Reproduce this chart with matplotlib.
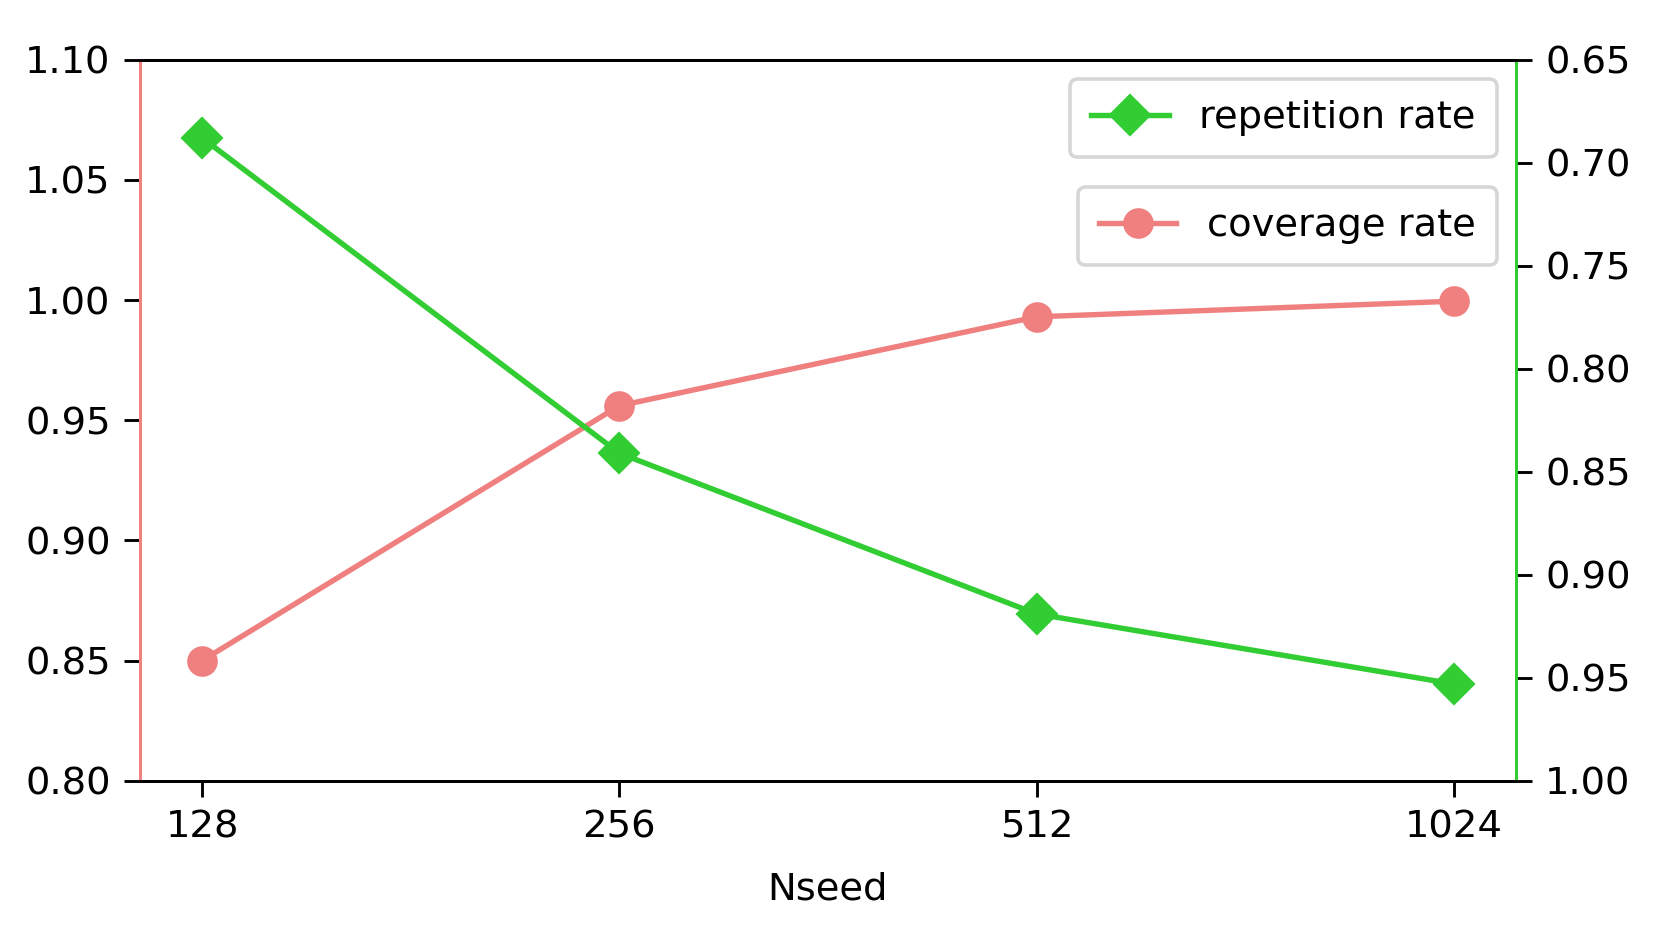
import matplotlib
matplotlib.use("Agg")
import matplotlib.pyplot as plt

# dati
nseed = ["128", "256", "512", "1024"]
coverage_rate = [0.850, 0.956, 0.993, 0.9995]
repetition_rate = [0.688, 0.841, 0.919, 0.953]

x = list(range(len(nseed)))

plt.rcParams["font.size"] = 10.7
plt.rcParams["xtick.major.size"] = 4.5
plt.rcParams["ytick.major.size"] = 4.5

fig, ax1 = plt.subplots(figsize=(6.4, 3.6), dpi=259.5)
ax2 = ax1.twinx()

ax1.plot(x, coverage_rate, color="lightcoral", marker="o", markersize=7.5,
         linewidth=1.5, label="coverage rate")
ax2.plot(x, repetition_rate, color="limegreen", marker="D", markersize=7.5,
         linewidth=1.5, label="repetition rate")

ax1.set_ylim(0.80, 1.10)
ax2.set_ylim(1.00, 0.65)

ax1.set_xticks(x)
ax1.set_xticklabels(nseed)
ax1.set_xlabel("Nseed", labelpad=7)

for ax in (ax1, ax2):
    ax.spines["left"].set_color("lightcoral")
    ax.spines["right"].set_color("limegreen")

ax2.legend(loc="upper right", borderpad=0.55)
ax1.legend(loc="upper right", bbox_to_anchor=(1, 0.85), borderpad=0.55)

fig.subplots_adjust(left=0.084, right=0.913, bottom=0.164, top=0.936)
fig.savefig("out.png", dpi=259.5)
